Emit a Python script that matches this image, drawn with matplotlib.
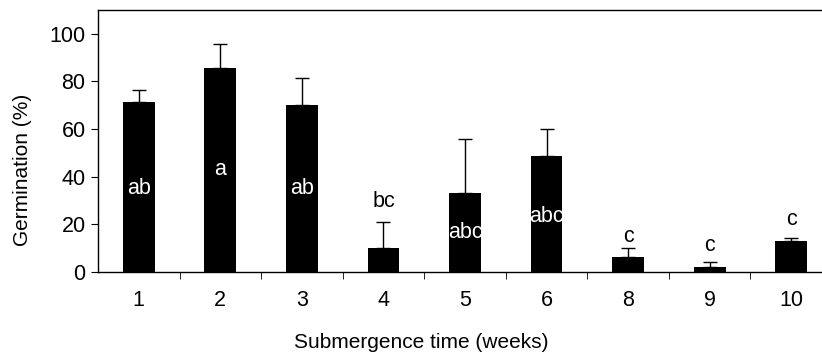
import matplotlib
matplotlib.use("Agg")
import matplotlib.pyplot as plt
import numpy as np

weeks = ["1", "2", "3", "4", "5", "6", "8", "9", "10"]
germination = [71.3, 85.6, 70.2, 10.0, 33.1, 48.7, 6.3, 2.0, 13.0]
err_upper = [5.0, 10.1, 11.3, 10.9, 22.8, 11.3, 3.9, 2.3, 1.3]
letters = ["ab", "a", "ab", "bc", "abc", "abc", "c", "c", "c"]
letter_y = [35, 43, 35, 29.5, 16.5, 23.5, 14.7, 11, 22]
letter_inside = [True, True, True, False, True, True, False, False, False]

plt.rcParams["font.family"] = ["Liberation Sans", "DejaVu Sans"]

fig = plt.figure(figsize=(8.22, 3.6), dpi=100)
ax = fig.add_axes([98 / 822, 88 / 360, 734 / 822, 262 / 360])

x = np.arange(len(weeks))
ax.bar(x, germination, width=0.39, color="black", zorder=2)
ax.errorbar(x, germination, yerr=[np.zeros(len(x)), err_upper], fmt="none",
            ecolor="black", elinewidth=1.0, capsize=5, capthick=1.0, zorder=1)

for xi, lbl, ly, inside in zip(x, letters, letter_y, letter_inside):
    ax.text(xi, ly, lbl, ha="center", va="center", fontsize=15.5,
            color="white" if inside else "black", zorder=3)

ax.set_xlim(-0.5, len(weeks) - 0.5)
ax.set_ylim(0, 110)
ax.set_yticks(range(0, 101, 20))
ax.set_xticks(x)
ax.set_xticklabels(weeks)
ax.set_xticks(np.arange(0.5, len(weeks) - 0.5, 1), minor=True)
ax.tick_params(axis="x", which="major", length=0, pad=13, labelsize=15.5)
ax.tick_params(axis="x", which="minor", length=5, direction="out")
ax.tick_params(axis="y", length=5, direction="out", labelsize=15.5, pad=4)

ax.spines["right"].set_visible(False)
for s in ("top", "left", "bottom"):
    ax.spines[s].set_linewidth(1.0)

ax.set_xlabel("Submergence time (weeks)", fontsize=15)
ax.set_ylabel("Germination (%)", fontsize=15)
ax.xaxis.set_label_coords((421 - 98) / 734, -(343 - 272) / 262)
ax.yaxis.set_label_coords(-(98 - 23) / 734, (272 - 170) / 262)
ax.xaxis.label.set_va("center")
ax.yaxis.label.set_va("center")

fig.savefig("out.png", dpi=100)
